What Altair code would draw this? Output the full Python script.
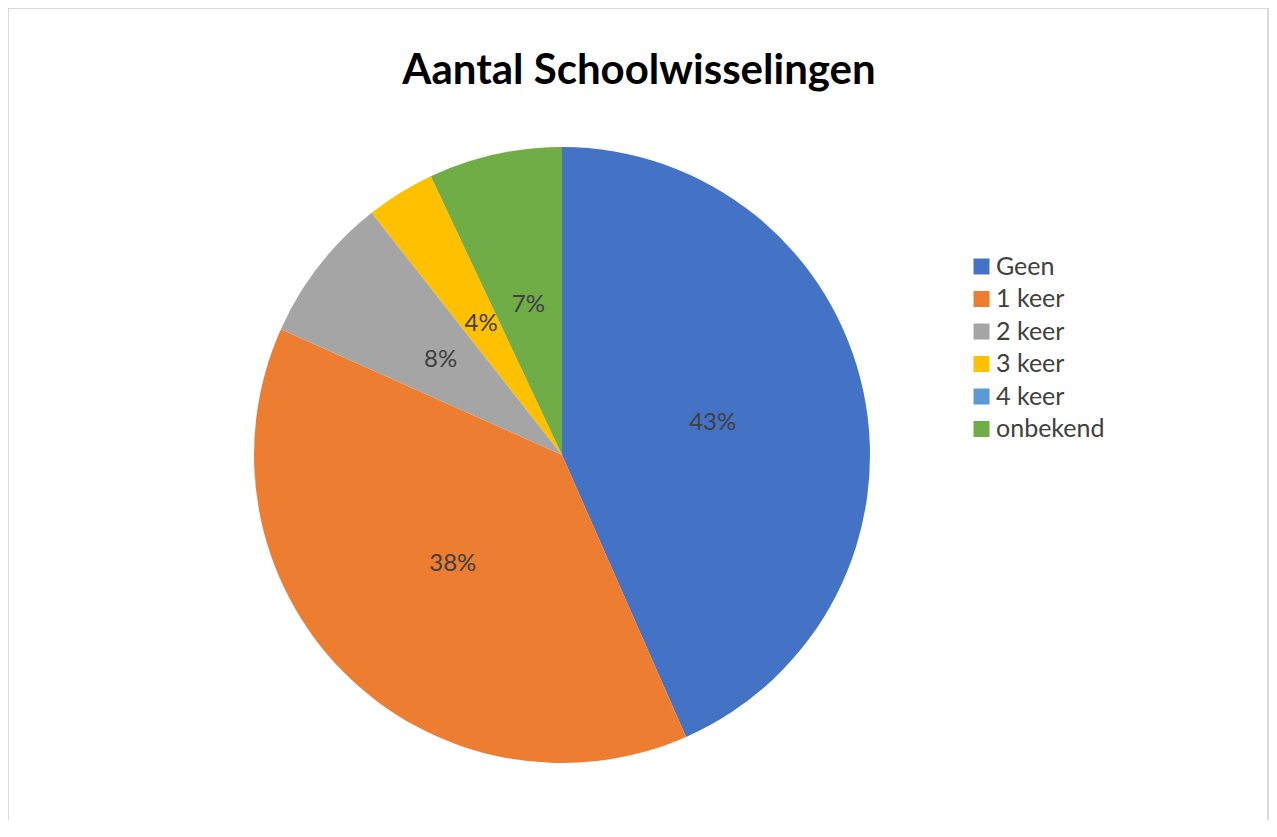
import altair as alt
import pandas as pd

title_text = "Aantal Schoolwisselingen"
categories = ["Geen", "1 keer", "2 keer", "3 keer", "4 keer", "onbekend"]
values = [43.4, 38.3, 7.7, 3.6, 0.0, 7.0]
colors = ["#4472C4", "#ED7D31", "#A5A5A5", "#FFC000", "#5B9BD5", "#70AD47"]

df = pd.DataFrame({"cat": categories, "value": values, "idx": list(range(len(categories)))})

W, H = 1261, 812
CX, CY, R = 554, 447, 308
FONT = "Lato"

color = alt.Color(
    "cat:N",
    scale=alt.Scale(domain=categories, range=colors),
    legend=alt.Legend(
        title=None, orient="none", legendX=961, legendY=246,
        symbolType="square", symbolSize=256, symbolStrokeWidth=0,
        labelFont=FONT, labelFontSize=25, labelColor="#404040",
        rowPadding=6.5, labelOffset=2,
    ),
)

base = alt.Chart(df)

pie = base.mark_arc(outerRadius=R, stroke=None).encode(
    theta=alt.Theta("value:Q", stack=True),
    color=color,
    order=alt.Order("idx:Q"),
    x=alt.value(CX), y=alt.value(CY),
)

labels = base.transform_filter("datum.value > 0").transform_calculate(
    pct="datum.value / 100"
).mark_text(radius=154, font=FONT, fontSize=24, color="#404040").encode(
    theta=alt.Theta("value:Q", stack=True),
    order=alt.Order("idx:Q"),
    text=alt.Text("pct:Q", format=".0%"),
    x=alt.value(CX), y=alt.value(CY),
)

deco = alt.Chart(pd.DataFrame({"t": [title_text]}))

left = deco.mark_rule(stroke="#D9D9D9", strokeWidth=2).encode(
    x=alt.value(0), y=alt.value(0), y2=alt.value(H)
)
top = deco.mark_rule(stroke="#D9D9D9", strokeWidth=2).encode(
    x=alt.value(-1), x2=alt.value(W), y=alt.value(0)
)
right = deco.mark_rule(stroke="#D9D9D9", strokeWidth=2).encode(
    x=alt.value(W - 1), y=alt.value(0), y2=alt.value(H)
)

title = deco.mark_text(
    font=FONT, fontSize=42, fontWeight="bold", color="#000000",
    align="center", baseline="alphabetic",
).encode(text="t:N", x=alt.value(631), y=alt.value(76))

chart = alt.layer(left, top, right, pie, labels, title).properties(
    width=W, height=H, padding=0,
    autosize=alt.AutoSizeParams(type="none"),
).configure_view(stroke=None).configure(background="white")

chart.save("out.html", embed_options={"renderer": "svg", "actions": False})
